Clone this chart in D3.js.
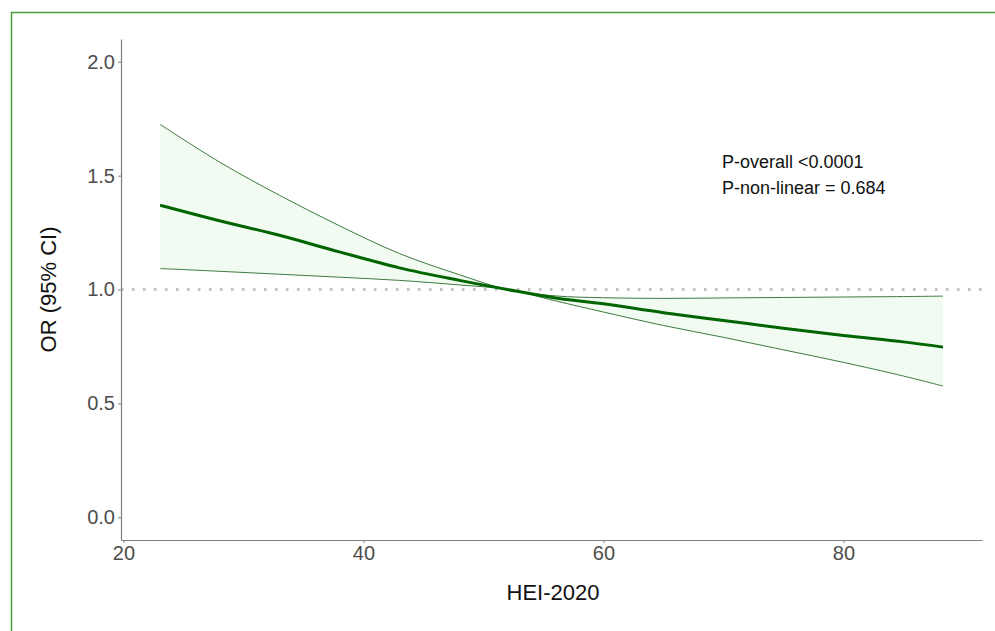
<!DOCTYPE html>
<html>
<head>
<meta charset="utf-8">
<script src="https://cdn.jsdelivr.net/npm/d3@7"></script>
<style>
  body { margin: 0; background: #fff; }
  svg { display: block; font-family: "Liberation Sans", Arial, sans-serif; }
</style>
</head>
<body>
<svg id="chart" width="995" height="631"></svg>
<script>
// HEI-2020 values and odds ratios
const hei   = [23.06, 28, 33, 38, 43, 48, 52, 56, 60, 65, 70, 75, 80, 85, 88.3];
const orEst = [1.370, 1.302, 1.238, 1.165, 1.095, 1.040, 1.000, 0.963, 0.937, 0.898, 0.864, 0.830, 0.798, 0.770, 0.747];
const orUp  = [1.725, 1.560, 1.414, 1.280, 1.158, 1.065, 1.000, 0.972, 0.964, 0.961, 0.963, 0.965, 0.967, 0.969, 0.971];
const orLo  = [1.092, 1.080, 1.067, 1.054, 1.040, 1.020, 1.000, 0.950, 0.901, 0.842, 0.790, 0.735, 0.680, 0.620, 0.576];
const xTicks = [20, 40, 60, 80];
const yTicks = [0, 0.5, 1.0, 1.5, 2.0];
const pText = ["P-overall <0.0001", "P-non-linear = 0.684"];

const svg = d3.select("#chart");
const plotL = 121, plotR = 982, plotT = 39, plotB = 540;

const data = hei.map((h, i) => ({ x: h, est: orEst[i], up: orUp[i], lo: orLo[i] }));
const curve = d3.curveCatmullRom.alpha(0.5);

// outer frame
svg.append("rect")
  .attr("x", 11.5).attr("y", 12.5)
  .attr("width", 1000).attr("height", 1000)
  .attr("fill", "none")
  .attr("stroke", "#4b9a3c")
  .attr("stroke-width", 1.5);

const x = d3.scaleLinear().domain([19.8, 91.55]).range([plotL, plotR]);
const y = d3.scaleLinear().domain([-0.1, 2.1]).range([plotB, plotT]);

// CI ribbon
svg.append("path")
  .datum(data)
  .attr("fill", "#f1fbf1")
  .attr("d", d3.area()
    .curve(curve)
    .x(d => x(d.x))
    .y0(d => y(d.lo))
    .y1(d => y(d.up)));

// reference line at OR = 1
svg.append("line")
  .attr("x1", plotL).attr("x2", plotR)
  .attr("y1", y(1)).attr("y2", y(1))
  .attr("stroke", "#c0c0c0")
  .attr("stroke-width", 3)
  .attr("stroke-dasharray", "2.5,8.5");

// CI bounds
["up", "lo"].forEach(k => {
  svg.append("path")
    .datum(data)
    .attr("fill", "none")
    .attr("stroke", "#3e7a3e")
    .attr("stroke-width", 1)
    .attr("d", d3.line()
      .curve(curve)
      .x(d => x(d.x))
      .y(d => y(d[k])));
});

// estimate
svg.append("path")
  .datum(data)
  .attr("fill", "none")
  .attr("stroke", "#006400")
  .attr("stroke-width", 3)
  .attr("d", d3.line()
    .curve(curve)
    .x(d => x(d.x))
    .y(d => y(d.est)));

// axes
const xAxis = svg.append("g")
  .attr("transform", "translate(0," + plotB + ")")
  .call(d3.axisBottom(x).tickValues(xTicks).tickSize(3).tickSizeOuter(0).tickPadding(3));
const yAxis = svg.append("g")
  .attr("transform", "translate(" + plotL + ",0)")
  .call(d3.axisLeft(y).tickValues(yTicks).tickFormat(d3.format(".1f")).tickSize(3).tickSizeOuter(0).tickPadding(3));

[xAxis, yAxis].forEach(a => {
  a.select(".domain").attr("stroke", "#7f7f7f").attr("stroke-width", 1.2);
  a.selectAll(".tick line").attr("stroke", "#7f7f7f");
  a.selectAll(".tick text")
    .attr("fill", "#4d4d4d")
    .style("font-size", "20px")
    .style("font-family", "Liberation Sans, Arial, sans-serif");
});

// axis titles
svg.append("text")
  .attr("x", 553).attr("y", 600)
  .attr("text-anchor", "middle")
  .attr("fill", "#111")
  .style("font-size", "22px")
  .text("HEI-2020");

svg.append("text")
  .attr("transform", "translate(56," + y(1) + ") rotate(-90)")
  .attr("text-anchor", "middle")
  .attr("fill", "#111")
  .style("font-size", "22px")
  .text("OR (95% CI)");

// p values
svg.selectAll(".ptext")
  .data(pText)
  .enter()
  .append("text")
  .attr("x", 722)
  .attr("y", (d, i) => 168 + i * 26)
  .attr("fill", "#111")
  .style("font-size", "18px")
  .text(d => d);
</script>
</body>
</html>
